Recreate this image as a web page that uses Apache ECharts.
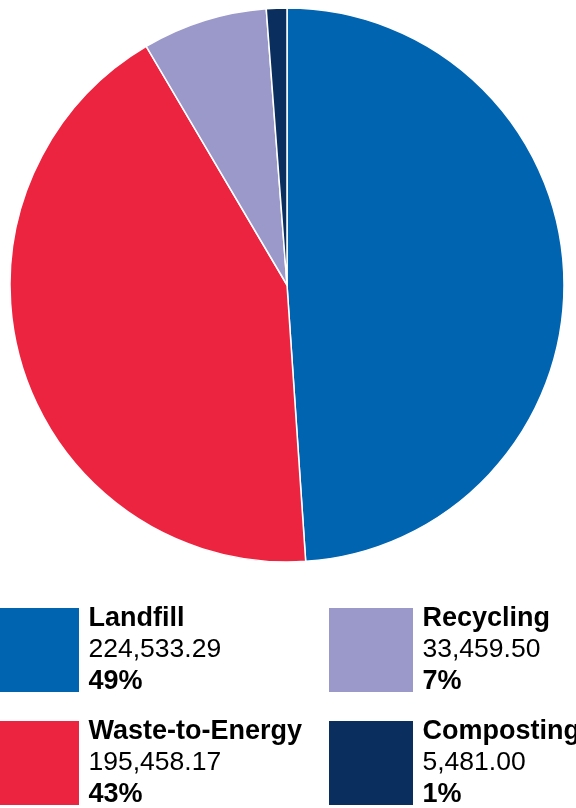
<!DOCTYPE html>
<html lang="en">

<head>
    <meta charset="UTF-8">
    <title>Waste disposal</title>
    <script src="https://cdn.jsdelivr.net/npm/echarts@6/dist/echarts.min.js"></script>
    <style>
        * {
            margin: 0;
            padding: 0;
        }

        #main {
            width: 576px;
            height: 808px;
            background: #fff;
        }
    </style>
</head>

<body>
    <div id="main"></div>
    <script>
        let categories = ['Landfill', 'Waste-to-Energy', 'Recycling', 'Composting'];
        let values = [224533.29, 195458.17, 33459.50, 5481.00];
        let colors = ['#0064b1', '#ed2440', '#9a99c9', '#0a2f5f'];

        let total = values.reduce((a, b) => a + b, 0);
        let pieData = categories.map((name, i) => ({ name: name, value: values[i] }));

        function fmt(v) {
            return v.toLocaleString('en-US', { minimumFractionDigits: 2, maximumFractionDigits: 2 });
        }

        function legendText(name) {
            let i = categories.indexOf(name);
            let pct = Math.round(values[i] / total * 100) + '%';
            return '{n|' + name + '}\n{v|' + fmt(values[i]) + '}\n{p|' + pct + '}';
        }

        let rich = {
            n: { fontSize: 27, fontWeight: 'bold', lineHeight: 31.5, padding: [0, 0, 0, 4.5], color: '#000' },
            v: { fontSize: 26.5, lineHeight: 31.5, padding: [0, 0, 0, 4.5], color: '#000' },
            p: { fontSize: 27, fontWeight: 'bold', lineHeight: 31.5, padding: [0, 0, 0, 4.5], color: '#000' }
        };

        // one legend per box, so each square can be placed on its own
        function makeLegend(left, top, name) {
            return {
                orient: 'vertical',
                left: left,
                top: top,
                padding: 0,
                itemWidth: 84,
                itemHeight: 84,
                icon: 'rect',
                selectedMode: false,
                itemStyle: { borderWidth: 0 },
                data: [name],
                formatter: legendText,
                textStyle: { fontFamily: 'Liberation Sans', rich: rich }
            };
        }

        let myChart = echarts.init(document.getElementById('main'));
        myChart.setOption({
            animation: false,
            color: colors,
            textStyle: { fontFamily: 'Liberation Sans' },
            legend: [
                makeLegend(-5, 605, categories[0]),
                makeLegend(-5, 718, categories[1]),
                makeLegend(329, 605, categories[2]),
                makeLegend(329, 718, categories[3])
            ],
            series: [{
                type: 'pie',
                center: [287, 285],
                radius: 277,
                startAngle: 90,
                clockwise: true,
                label: { show: false },
                labelLine: { show: false },
                itemStyle: { borderColor: '#fff', borderWidth: 1.5 },
                emphasis: { disabled: true },
                data: pieData
            }]
        });
    </script>
</body>

</html>
